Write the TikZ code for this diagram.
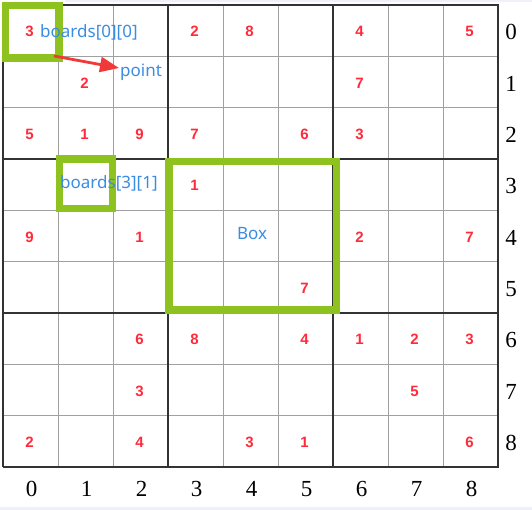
\documentclass[tikz,border=0pt]{standalone}
\usepackage{fontspec}
\usepackage{xcolor}
\usetikzlibrary{calc}
\usetikzlibrary{arrows.meta}

\newfontfamily\cluefont{Liberation Sans}
\newfontfamily\notefont{Noto Sans}
\newfontfamily\axisfont{Liberation Serif}

\definecolor{cluered}{HTML}{FF2A3A}
\definecolor{noteblue}{HTML}{3A8DE2}
\definecolor{boxgreen}{HTML}{8EC31F}
\definecolor{arrowred}{HTML}{F03A3A}
\definecolor{gridgray}{HTML}{A0A0A0}
\definecolor{griddark}{HTML}{333333}
\definecolor{stripgray}{HTML}{EEF1F8}

\tikzset{
	clue/.style={text=cluered, font=\cluefont\bfseries\fontsize{15}{15}\selectfont, inner sep=0pt},
	note/.style={text=noteblue, font=\notefont\fontsize{17}{17}\selectfont, inner sep=0pt},
	axis/.style={text=black, font=\axisfont\fontsize{23}{23}\selectfont, inner sep=0pt},
	gridthin/.style={draw=gridgray, line width=1pt},
	gridthick/.style={draw=griddark, line width=2.5pt},
	hilite/.style={draw=boxgreen, line width=7.5pt},
	pointer/.style={draw=arrowred, line width=2.8pt, -{Triangle[length=19pt,width=15pt]}}
}

\begin{document}
\begin{tikzpicture}[x=1pt, y=-1pt]
		\useasboundingbox (0,0) rectangle (532,510);
		\fill[white] (0,0) rectangle (532,510);
		\fill[stripgray] (0,506.5) rectangle (532,510);
		\fill[stripgray] (65,0) rectangle (532,2.5);
		% thin grid lines
		\foreach \i in {1,2,4,5,7,8} {
			\draw[gridthin] ({3+55*\i},5) -- ({3+55*\i},467);
			\draw[gridthin] (3,{5+51.33*\i}) -- (498,{5+51.33*\i});
		}
		% thick grid lines
		\foreach \i in {0,3,6,9} {
			\draw[gridthick] ({3+55*\i},5) -- ({3+55*\i},467);
			\draw[gridthick] (3,{5+51.33*\i}) -- (499,{5+51.33*\i});
		}
		% green boxes
		\draw[hilite] (5.5,5.7) rectangle (59,58);
		\draw[hilite] (59.5,159) rectangle (112.5,208.5);
		\draw[hilite] (169,161.7) rectangle (336.5,310);
		% clues
		\foreach \r/\c/\v in {0/0/3, 0/3/2, 0/4/8, 0/6/4, 0/8/5,
				1/1/2, 1/6/7,
				2/0/5, 2/1/1, 2/2/9, 2/3/7, 2/5/6, 2/6/3,
				3/3/1,
				4/0/9, 4/2/1, 4/6/2, 4/8/7,
				5/5/7,
				6/2/6, 6/3/8, 6/5/4, 6/6/1, 6/7/2, 6/8/3,
				7/2/3, 7/7/5,
				8/0/2, 8/2/4, 8/4/3, 8/5/1, 8/8/6} {
			\node[clue] (c\r\c) at ({3+55*(\c+0.5)-1},{5+51.33*(\r+0.5)+1}) {\v};
		}
		% row and column numbers
		\foreach \i in {0,...,8} {
			\node[axis] (row\i) at (511,{5+51.33*(\i+0.5)+1.5}) {\i};
			\node[axis] (col\i) at ({3+55*(\i+0.5)+1},489) {\i};
		}
		% notes
		\node[note, anchor=base west] (first) at (40,37.5) {boards[0][0]};
		\node[note, anchor=base west] (second) at (60,189) {boards[3][1]};
		\node[note] (box) at (252,234) {Box};
		\node[note, anchor=west] (point) at (120,72) {point};
		\coordinate (tail) at (54,56);
		\draw[pointer] (tail) -- ([shift={(-1,-4)}]point.west);
		\end{tikzpicture}
\end{document}
